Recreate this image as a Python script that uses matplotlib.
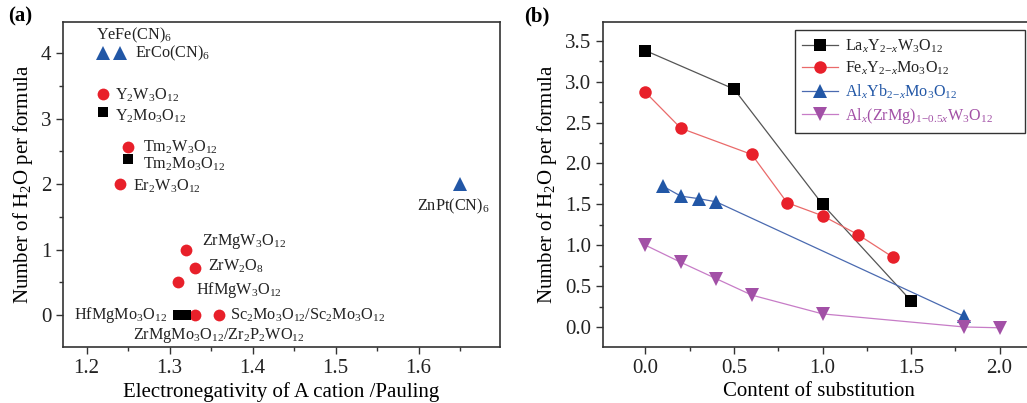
import numpy as np
import matplotlib
matplotlib.use("Agg")
import matplotlib.pyplot as plt
from matplotlib.ticker import MultipleLocator, FormatStrFormatter

plt.rcParams['font.family'] = ['Liberation Serif', 'DejaVu Serif']
plt.rcParams['mathtext.fontset'] = 'custom'
plt.rcParams['mathtext.rm'] = 'Liberation Serif'
plt.rcParams['mathtext.it'] = 'Liberation Serif:italic'
plt.rcParams['mathtext.bf'] = 'Liberation Serif:bold'

# ---- panel (a): electronegativity vs water content ----
cn_x = [1.22, 1.24, 1.65]            # YeFe(CN)6, ErCo(CN)6, ZnPt(CN)6
cn_y = [4.0, 4.0, 2.0]
w_x = [1.22, 1.25, 1.24, 1.32, 1.33, 1.31, 1.33, 1.36]   # tungstates etc. (red circles)
w_y = [3.38, 2.57, 2.0, 1.0, 0.72, 0.5, 0.0, 0.0]
mo_x = [1.22, 1.25, 1.31, 1.32]        # molybdates (black squares)
mo_y = [3.11, 2.38, 0.0, 0.0]

labels_a = [r'YeFe(CN)$_6$', r'ErCo(CN)$_6$', r'Y$_2$W$_3$O$_{12}$', r'Y$_2$Mo$_3$O$_{12}$',
            r'Tm$_2$W$_3$O$_{12}$', r'Tm$_2$Mo$_3$O$_{12}$', r'Er$_2$W$_3$O$_{12}$',
            r'ZrMgW$_3$O$_{12}$', r'ZrW$_2$O$_8$', r'HfMgW$_3$O$_{12}$', r'HfMgMo$_3$O$_{12}$',
            r'Sc$_2$Mo$_3$O$_{12}$/Sc$_2$Mo$_3$O$_{12}$',
            r'ZrMgMo$_3$O$_{12}$/Zr$_2$P$_2$WO$_{12}$', r'ZnPt(CN)$_6$']
# text anchor (left, centre) in data coords
label_pos = [(1.2112, 4.28), (1.2582, 4.0), (1.2341, 3.36), (1.2341, 3.04),
             (1.2675, 2.57), (1.2675, 2.31), (1.2558, 1.97),
             (1.3386, 1.12), (1.3461, 0.75), (1.3317, 0.38), (1.1847, 0.0),
             (1.3727, 0.0), (1.2558, -0.32), (1.5976, 1.66)]

# ---- panel (b): content of substitution ----
la_x = [0.0, 0.5, 1.0, 1.5]
la_y = [3.38, 2.91, 1.5, 0.32]
fe_x = [0.0, 0.2, 0.6, 0.8, 1.0, 1.2, 1.4]
fe_y = [2.87, 2.43, 2.11, 1.52, 1.36, 1.13, 0.85]
al_x = [0.1, 0.2, 0.3, 0.4, 1.8]
al_y = [1.72, 1.6, 1.57, 1.53, 0.13]
zm_x = [0.0, 0.2, 0.4, 0.6, 1.0, 1.8, 2.0]
zm_y = [1.0, 0.79, 0.59, 0.39, 0.16, 0.0, -0.01]

series_names = [r'La$_x$Y$_{2\!-\!x}$W$_3$O$_{12}$', r'Fe$_x$Y$_{2\!-\!x}$Mo$_3$O$_{12}$',
                r'Al$_x$Yb$_{2\!-\!x}$Mo$_3$O$_{12}$',
                r'Al$_x$(ZrMg)$_{1\!-\!0.5x}$W$_3$O$_{12}$']

RED = '#e8202a'
BLUE = '#2257a6'
PURPLE = '#a250a6'

W, H = 1027, 403
fig = plt.figure(figsize=(W / 100, H / 100), dpi=100)

axa = fig.add_axes([63 / W, 1 - 347 / H, (500 - 63) / W, (347 - 22) / H])
axb = fig.add_axes([603 / W, 1 - 347 / H, (1035 - 603) / W, (347 - 22) / H])

# panel a
axa.plot(cn_x, cn_y, '^', color=BLUE, ms=10, mew=0)
axa.plot(w_x, w_y, 'o', color=RED, ms=8.5, mew=0)
axa.plot(mo_x, mo_y, 's', color='black', ms=7.5, mew=0)
for txt, (tx, ty) in zip(labels_a, label_pos):
    axa.text(tx, ty, txt, fontsize=11.7, ha='left', va='center', color='#222222')

axa.set_xlim(1.1715, 1.698)
axa.set_ylim(-0.49, 4.48)
axa.xaxis.set_major_locator(MultipleLocator(0.1))
axa.xaxis.set_minor_locator(MultipleLocator(0.05))
axa.yaxis.set_major_locator(MultipleLocator(1))
axa.yaxis.set_minor_locator(MultipleLocator(0.5))
axa.set_xlabel('Electronegativity of A cation /Pauling', fontsize=15, labelpad=3)
axa.set_ylabel(r'Number of H$_2$O per formula', fontsize=15, labelpad=4)

# panel b
axb.plot(la_x, la_y, '-s', color='#555555', mfc='black', mec='black', ms=8, mew=0, lw=0.9,
         label=series_names[0])
axb.plot(fe_x, fe_y, '-o', color='#ea6a6a', mfc=RED, ms=9, mew=0, lw=0.9,
         label=series_names[1])
axb.plot(al_x, al_y, '-^', color='#4a6ab0', mfc=BLUE, ms=10, mew=0, lw=0.9,
         label=series_names[2])
axb.plot(zm_x, zm_y, '-v', color='#c77cc7', mfc=PURPLE, ms=10, mew=0, lw=0.9,
         label=series_names[3])

axb.set_xlim(-0.24, 2.2)
axb.set_ylim(-0.245, 3.73)
axb.xaxis.set_major_locator(MultipleLocator(0.5))
axb.xaxis.set_minor_locator(MultipleLocator(0.25))
axb.yaxis.set_major_locator(MultipleLocator(0.5))
axb.yaxis.set_minor_locator(MultipleLocator(0.25))
axb.xaxis.set_major_formatter(FormatStrFormatter('%.1f'))
axb.yaxis.set_major_formatter(FormatStrFormatter('%.1f'))
axb.set_xlabel('Content of substitution', fontsize=15, labelpad=3)
axb.set_ylabel(r'Number of H$_2$O per formula', fontsize=15, labelpad=4)
axb.spines['right'].set_visible(False)

leg = axb.legend(loc='upper left', bbox_to_anchor=(0.444, 0.975, 0.533, 0.0), mode='expand',
                 fontsize=11.6, frameon=True, fancybox=False, edgecolor='black',
                 borderpad=0.45, handlelength=2.2, handletextpad=0.45,
                 labelspacing=0.32, borderaxespad=0)
leg.get_frame().set_linewidth(1.0)
for t, c in zip(leg.get_texts(), ['#222222', '#222222', BLUE, PURPLE]):
    t.set_color(c)

for ax in (axa, axb):
    ax.tick_params(which='both', direction='out', top=False, right=False,
                   labelsize=15, width=1, colors='#333333', labelcolor='#222222')
    ax.tick_params(which='major', length=5)
    ax.tick_params(which='minor', length=3)
    for s in ax.spines.values():
        s.set_linewidth(1.2)
        s.set_color('#333333')

fig.text(8 / W, 1 - 16 / H, '(a)', fontsize=15, fontweight='bold', va='center')
fig.text(524 / W, 1 - 16 / H, '(b)', fontsize=15, fontweight='bold', va='center')

fig.savefig('out.png', dpi=100)
